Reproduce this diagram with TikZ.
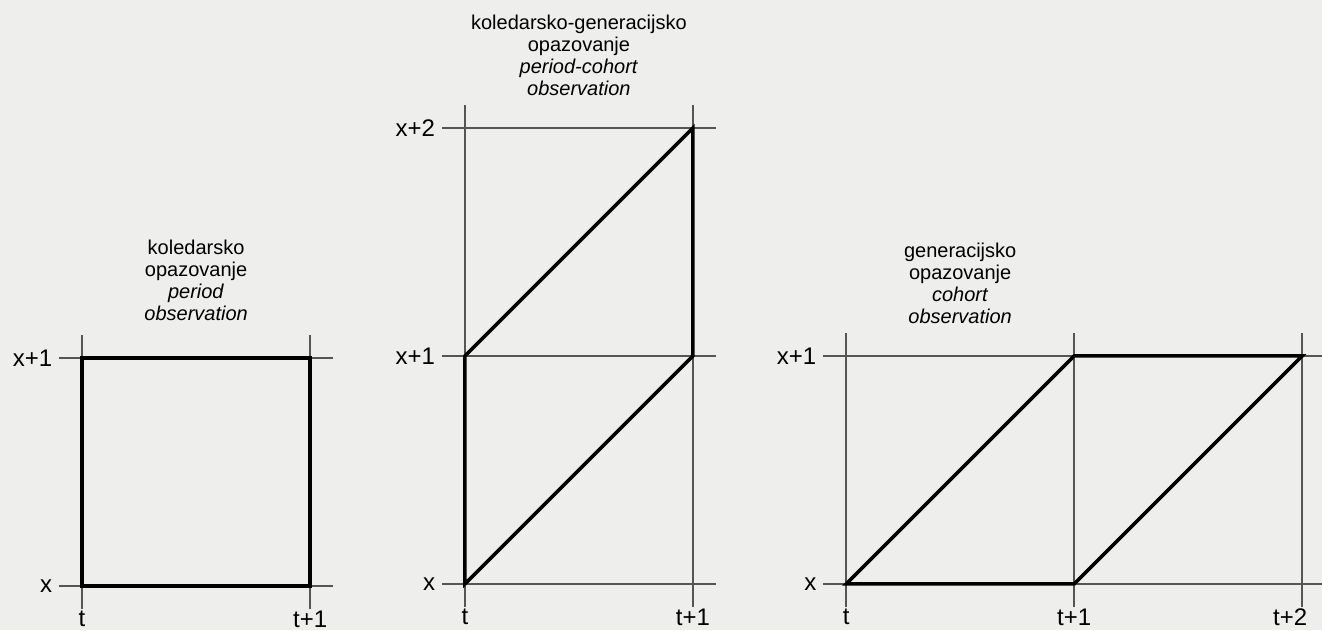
\documentclass[tikz,border=0pt]{standalone}
\usepackage{fontspec}
\setmainfont{Liberation Sans}
\usetikzlibrary{positioning}
\definecolor{PaperGray}{HTML}{EEEEEC}
\definecolor{GridGray}{HTML}{555555}

\begin{document}
\begin{tikzpicture}[x=114pt,y=114pt,
  gridline/.style={GridGray,line width=0.7pt},
  lexis/.style={black,line width=1.7pt,line join=miter},
  tick/.style={font=\fontsize{12}{12}\selectfont},
  ttick/.style={tick,below,inner sep=0.8pt},
  title/.style={align=center,font=\fontsize{10}{11}\selectfont}]
  \fill[PaperGray] (0,0) rectangle (5.798,2.763);
  \useasboundingbox (0,0) rectangle (5.798,2.763);

  % period observation
  \begin{scope}[shift={(0.360,0.193)}]
    \foreach \i in {0,1} {
      \draw[gridline] (-0.1,\i) -- (1.1,\i);
      \draw[gridline] (\i,-0.1) -- (\i,1.1);
    }
    \coordinate (p00) at (0,0); \coordinate (p11) at (1,1);
    \draw[lexis] (p00) rectangle (p11);
    \node[tick,left] (p-x)  at (-0.1,0) {x};
    \node[tick,left] (p-x1) at (-0.1,1) {x+1};
    \node[ttick] (p-t)  at (0,-0.1) {t};
    \node[ttick] (p-t1) at (1,-0.1) {t+1};
    \node[title] (p-title) at (0.5,1.342)
      {koledarsko\\opazovanje\\\textit{period}\\\textit{observation}};
  \end{scope}

  % period-cohort observation
  \begin{scope}[shift={(2.039,0.202)}]
    \foreach \i in {0,1,2} \draw[gridline] (-0.1,\i) -- (1.1,\i);
    \foreach \i in {0,1} \draw[gridline] (\i,-0.1) -- (\i,2.1);
    \coordinate (pc00) at (0,0); \coordinate (pc01) at (0,1);
    \coordinate (pc12) at (1,2); \coordinate (pc11) at (1,1);
    \draw[lexis] (pc00) -- (pc01) -- (pc12) -- (pc11) -- cycle;
    \node[tick,left] (pc-x)  at (-0.1,0) {x};
    \node[tick,left] (pc-x1) at (-0.1,1) {x+1};
    \node[tick,left] (pc-x2) at (-0.1,2) {x+2};
    \node[ttick] (pc-t)  at (0,-0.1) {t};
    \node[ttick] (pc-t1) at (1,-0.1) {t+1};
    \node[title] (pc-title) at (0.5,2.32)
      {koledarsko-generacijsko\\opazovanje\\\textit{period-cohort}\\\textit{observation}};
  \end{scope}

  % cohort observation
  \begin{scope}[shift={(3.711,0.202)}]
    \foreach \i in {0,1} \draw[gridline] (-0.1,\i) -- (2.1,\i);
    \foreach \i in {0,1,2} \draw[gridline] (\i,-0.1) -- (\i,1.1);
    \coordinate (c00) at (0,0); \coordinate (c11) at (1,1);
    \coordinate (c21) at (2,1); \coordinate (c10) at (1,0);
    \draw[lexis] (c00) -- (c11) -- (c21) -- (c10) -- cycle;
    \node[tick,left] (c-x)  at (-0.1,0) {x};
    \node[tick,left] (c-x1) at (-0.1,1) {x+1};
    \node[ttick] (c-t)  at (0,-0.1) {t};
    \node[ttick] (c-t1) at (1,-0.1) {t+1};
    \node[ttick,xshift=-6pt] (c-t2) at (2,-0.1) {t+2};
    \node[title] (c-title) at (0.5,1.32)
      {generacijsko\\opazovanje\\\textit{cohort}\\\textit{observation}};
  \end{scope}
\end{tikzpicture}
\end{document}
